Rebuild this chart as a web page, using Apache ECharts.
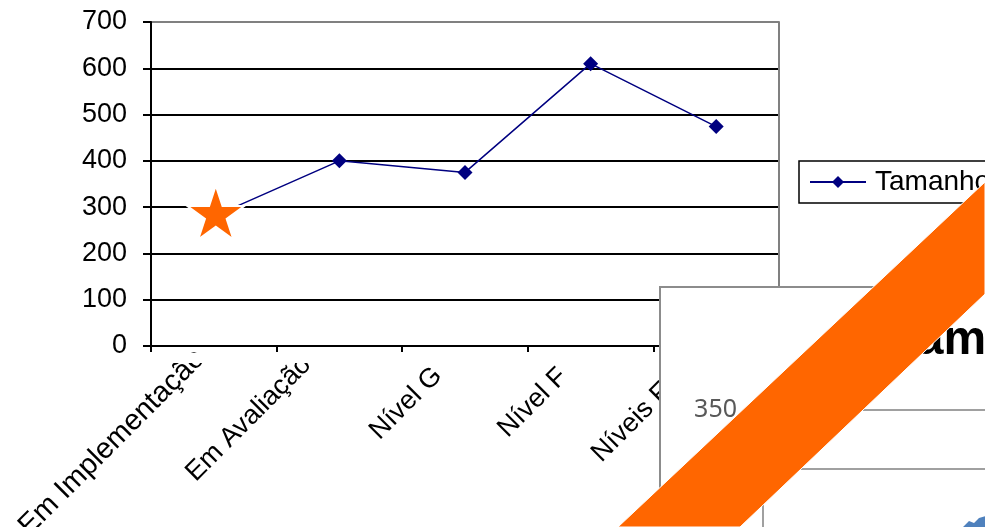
<!DOCTYPE html>
<html>
<head>
<meta charset="utf-8">
<script src="https://cdn.jsdelivr.net/npm/echarts@6/dist/echarts.min.js"></script>
<style>
html,body{margin:0;padding:0;background:#fff;}
#chart{width:985px;height:527px;}
</style>
</head>
<body>
<div id="chart"></div>
<script>
// ---- data ----
var categories = ['Em Implementação', 'Em Avaliação', 'Nível G', 'Nível F', 'Níveis E a A'];
var seriesName = 'Tamanho';
var values = [280, 400, 375, 610, 474];
var yTicks = [0, 100, 200, 300, 400, 500, 600, 700];
// partially visible pasted chart (overlay)
var insetTitle = 'Tamanho';
var insetTickLabel = '350';

var FONT = '"Liberation Sans", Arial, sans-serif';
var STAR = 'path://M0,-1 L0.2245,-0.309 L0.951,-0.309 L0.363,0.118 L0.588,0.809 L0,0.382 L-0.588,0.809 L-0.363,0.118 L-0.951,-0.309 L-0.2245,-0.309 Z';

var splitColors = yTicks.map(function (v, i) { return i === yTicks.length - 1 ? '#808080' : '#000000'; });

// per-label placement (style only)
var labelPads = [[0, 4, 30, 0], [0, 22, 48, 0], [0, 26, 25, 0], [0, 27, 24, 0], [0, 4, 34, 0]];
var labelSizes = [29, 27, 27, 27, 27];
var rich = {};
labelPads.forEach(function (p, i) {
  rich['s' + i] = { fontFamily: FONT, fontSize: labelSizes[i], color: '#000', padding: p };
});

var seriesData = values.map(function (v, i) {
  if (i === 0) {
    return {
      value: v,
      symbol: STAR,
      symbolSize: [57, 54],
      symbolOffset: [2, -4],
      itemStyle: { color: '#FF6600', borderColor: '#ffffff', borderWidth: 2 }
    };
  }
  return v;
});

var chart = echarts.init(document.getElementById('chart'), null, { renderer: 'canvas' });
chart.setOption({
  animation: false,
  backgroundColor: '#ffffff',
  grid: { left: 151, right: 206, top: 22, bottom: 181, containLabel: false, outerBoundsMode: 'none' },
  legend: {
    data: [seriesName],
    left: 799, top: 161,
    orient: 'vertical',
    padding: [7, 12, 7, 10],
    borderColor: '#000000', borderWidth: 1.5,
    itemWidth: 56, itemHeight: 15,
    textStyle: { fontFamily: FONT, fontSize: 28, color: '#000', padding: [0, 0, 0, 4] }
  },
  xAxis: {
    type: 'category',
    data: categories,
    boundaryGap: true,
    axisLine: { lineStyle: { color: '#000', width: 2 } },
    axisTick: { show: true, length: 6, lineStyle: { color: '#000', width: 2 } },
    axisLabel: {
      interval: 0, rotate: 45, margin: 16,
      fontFamily: FONT, fontSize: 27, color: '#000',
      formatter: function (v, i) { return '{s' + i + '|' + v + '}'; },
      rich: rich
    },
    splitLine: { show: false }
  },
  yAxis: [{
    type: 'value', min: 0, max: 700, interval: 100,
    axisLine: { show: true, lineStyle: { color: '#000', width: 2 } },
    axisTick: { show: true, length: 8, lineStyle: { color: '#000', width: 2 } },
    axisLabel: { margin: 24, fontFamily: FONT, fontSize: 27, color: '#000' },
    splitLine: { show: true, lineStyle: { color: splitColors, width: 2 } }
  }, {
    type: 'value', min: 0, max: 700, interval: 100, position: 'right',
    axisLine: { show: true, lineStyle: { color: '#808080', width: 2 } },
    axisTick: { show: false }, axisLabel: { show: false }, splitLine: { show: false }
  }],
  series: [{
    name: seriesName,
    type: 'line',
    data: seriesData,
    symbol: 'diamond',
    symbolSize: 15,
    lineStyle: { color: '#000080', width: 1.5 },
    itemStyle: { color: '#000080' }
  }],
  graphic: [
    // crop of the rotated labels
    { type: 'rect', z: 10, shape: { x: 153, y: 353, width: 505, height: 10 }, style: { fill: '#ffffff' } },
    // pasted second chart panel
    { type: 'rect', z: 10, shape: { x: 660, y: 287, width: 400, height: 300 },
      style: { fill: '#ffffff', stroke: '#8c8c8c', lineWidth: 2 } },
    { type: 'text', z: 11, style: { x: 737, y: 410, text: insetTickLabel, align: 'right', verticalAlign: 'middle',
      font: '25px "Noto Sans", sans-serif', fill: '#595959' } },
    { type: 'text', z: 11, style: { x: 891, y: 341, text: insetTitle, align: 'left', verticalAlign: 'middle',
      font: 'bold 48px "Liberation Sans", Arial, sans-serif', fill: '#000000' } },
    { type: 'line', z: 11, shape: { x1: 763, y1: 410, x2: 990, y2: 410 }, style: { stroke: '#a0a0a0', lineWidth: 2 } },
    { type: 'line', z: 11, shape: { x1: 763, y1: 469, x2: 990, y2: 469 }, style: { stroke: '#a0a0a0', lineWidth: 2 } },
    { type: 'line', z: 11, shape: { x1: 763, y1: 410, x2: 763, y2: 530 }, style: { stroke: '#a0a0a0', lineWidth: 2 } },
    { type: 'polygon', z: 11, shape: { points: [[962, 528], [969, 521], [974, 523], [979, 518], [986, 516], [986, 528]] },
      style: { fill: '#4F81BD' } },
    // orange diagonal band
    { type: 'polygon', z: 20, shape: { points: [[985, 182], [618, 527], [740, 527], [985, 294]] },
      style: { fill: '#FF6600', stroke: '#ffffff', lineWidth: 1 } }
  ]
});
</script>
</body>
</html>
